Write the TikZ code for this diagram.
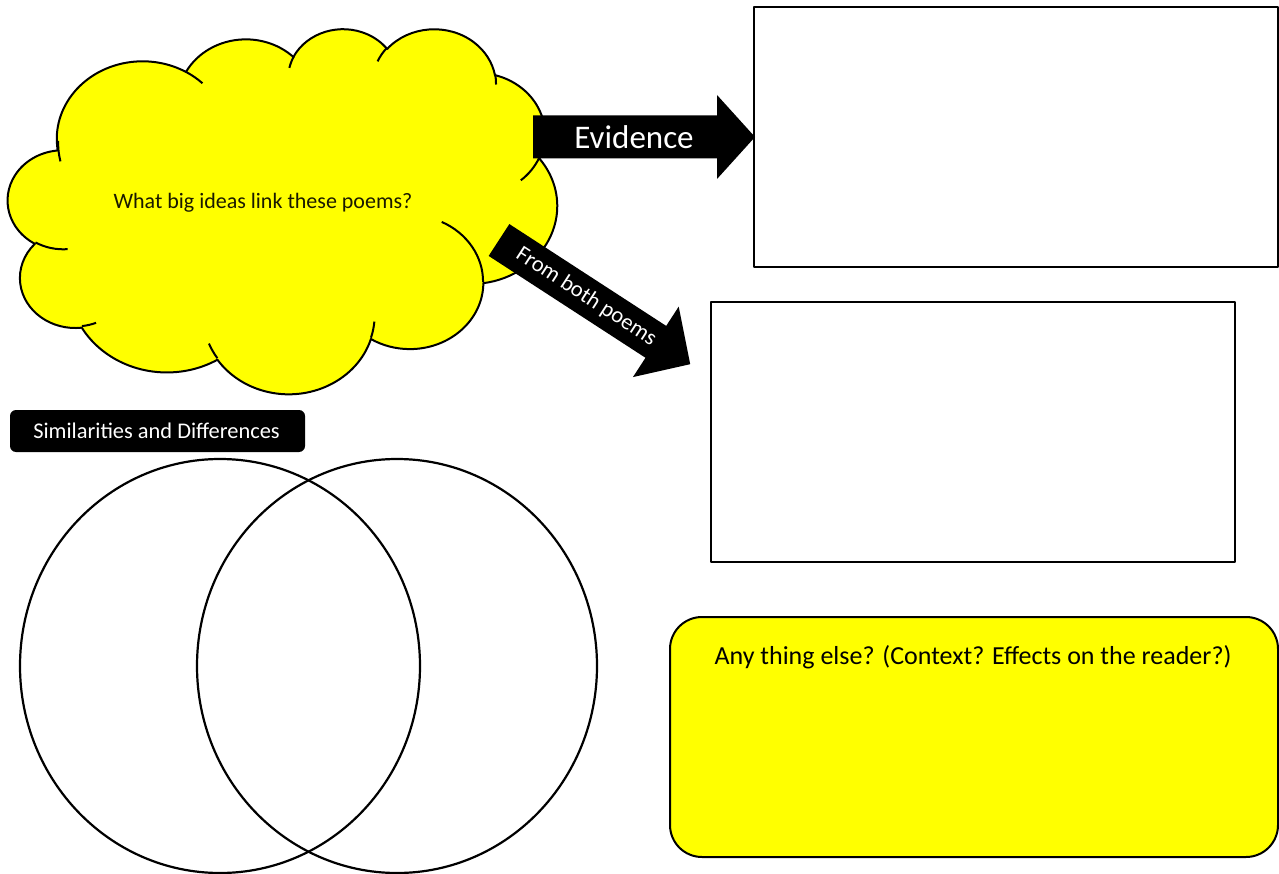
\documentclass[tikz,border=0pt]{standalone}
\usepackage{fontspec}
\setmainfont{Carlito}
\usetikzlibrary{shapes.geometric}
\definecolor{pureyellow}{RGB}{255,255,0}
\begin{document}
\begin{tikzpicture}[x=1pt,y=-1pt,line join=round]
\tikzset{
  carc/.style n args={4}{insert path={arc[x radius=#1, y radius=#2,
     start angle={atan2(#1*sin(#3),#2*cos(#3))},
     delta angle={mod(atan2(#1*sin(#3+#4),#2*cos(#3+#4))-atan2(#1*sin(#3),#2*cos(#3))+720,360)}]}},
  outline/.style={draw=black, line width=2pt},
  box/.style={draw=black, line width=2pt, minimum width=524pt, minimum height=260pt, inner sep=0pt},
  venn/.style={draw=black, line width=2.2pt, ellipse, minimum width=400pt, minimum height=414pt, inner sep=0pt},
  whitetext/.style={text=white, inner sep=0pt},
}
\useasboundingbox (0,0) rectangle (1279,874);

% cloud
\begin{scope}[shift={(8,28)}, x=0.127083pt, y=-0.084491pt]
  \path[outline, fill=pureyellow] (390,1437)
    [carc={675.3}{919}{-190.4875}{123.7805}]
    [carc={533.3}{726.7}{-144.1024}{89.9452}]
    [carc={436.5}{594.5}{-145.8079}{99.7230}]
    [carc={485.7}{659.5}{-130.9861}{117.2417}]
    [carc={533.3}{727.3}{-78.7089}{109.0269}]
    [carc={677.5}{922}{-46.2673}{130.2690}]
    [carc={578.5}{786.7}{0.6250}{114.0333}]
    [carc={675.2}{921.5}{22.4516}{115.1726}]
    [carc={772}{1054.3}{66.2426}{75.7110}]
    [carc={436}{591.8}{-274.9421}{146.7356}]
    [carc={434.5}{594.5}{-246.8285}{152.5189}] -- cycle;
  \path[outline]
    (469.3,2617.7) [carc={434.5}{594.5}{86.7420}{26.4295}]
    (692.8,3489.9) [carc={436}{591.8}{73.6105}{11.4475}]
    (1647.8,3909) [carc={675.2}{921.5}{137.6242}{14.0811}]
    (2882.7,3475.1) [carc={675.2}{921.5}{6.4533}{15.9984}]
    (3412.9,2295.4) [carc={578.5}{786.7}{-70.2924}{70.9174}]
    (4179.8,1535.4) [carc={533.3}{727.3}{30.3180}{27.7515}]
    (3832.4,542.6) [carc={485.7}{659.5}{-13.7443}{14.8589}]
    (2907.8,395.2) [carc={485.7}{659.5}{-149.1815}{18.1954}]
    (2214.1,472) [carc={436.5}{594.5}{-163.4943}{17.6864}]
    (1400,519.2) [carc={675.3}{919}{-66.7070}{12.3194}]
    (412.7,1578.9) [carc={675.3}{919}{162.2140}{20.6163}];
\end{scope}
\node[inner sep=0pt, text=black!90!pureyellow, font=\fontsize{22}{26}\selectfont] (idea) at (263,203) {What big ideas link these poems?};

% Evidence arrow
\fill[black] (533,115.5) -- (717,115.5) -- (717,95) -- (755,137) -- (717,179) -- (717,158.5) -- (533,158.5) -- cycle;
\node[whitetext, font=\fontsize{33}{37}\selectfont] (evid) at (634,137) {Evidence};

% From both poems arrow
\begin{scope}[shift={(499,240)}, rotate=-33]
  \fill[black] (0,-19) -- (187,-19) -- (187,-42) -- (228,0) -- (187,42) -- (187,19) -- (0,19) -- cycle;
  \node[whitetext, rotate=-33, font=\fontsize{22.5}{26}\selectfont] (both) at (104,0) {From both poems};
\end{scope}

% boxes
\node[box] (box1) at (1015.5,137) {};
\node[box] (box2) at (973,432) {};
\node[draw=black, line width=2pt, fill=pureyellow, rounded corners=32pt, minimum width=608pt, minimum height=240pt, inner sep=0pt] (other) at (974,737) {};
\node[inner sep=0pt, font=\fontsize{26}{30}\selectfont] (othertext) at (973,657) {Any thing else? (Context? Effects on the reader?)};

% Similarities label
\node[fill=black, rounded corners=6pt, minimum width=295pt, minimum height=42pt, inner sep=0pt] (simbox) at (157.5,431) {};
\node[whitetext, font=\fontsize{22.4}{26}\selectfont] (simtext) at (156.5,431) {Similarities and Differences};

% Venn
\node[venn] (vennL) at (220,666) {};
\node[venn] (vennR) at (397,666) {};
\end{tikzpicture}
\end{document}
